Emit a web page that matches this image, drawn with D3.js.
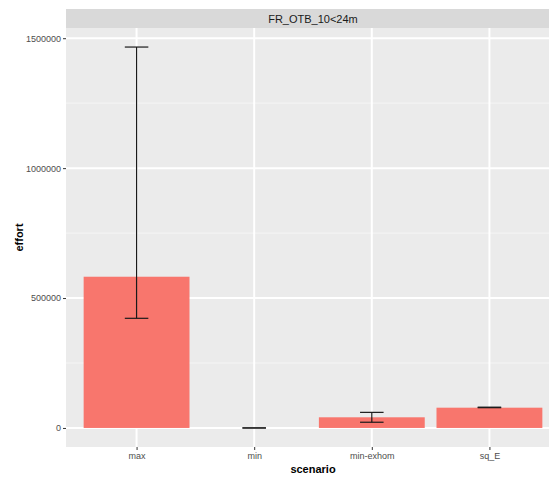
<!DOCTYPE html>
<html>
<head>
<meta charset="utf-8">
<script src="https://cdn.jsdelivr.net/npm/d3@7"></script>
<style>
  html, body { margin: 0; padding: 0; background: #fff; }
  svg { display: block; font-family: "Liberation Sans", Arial, Helvetica, sans-serif; }
</style>
</head>
<body>
<svg id="chart" width="549" height="478"></svg>
<script>
// Effort by scenario for the FR_OTB_10<24m fleet segment
const facetTitle = "FR_OTB_10<24m";
const scenarios = ["max", "min", "min-exhom", "sq_E"];
const effort    = [582000, 0, 41000, 78000];
const effortLow = [422000, 0, 22000, 78000];
const effortHigh = [1466000, 0, 60000, 80000];
const yTicks = [0, 500000, 1000000, 1500000];
const yMinor = [250000, 750000, 1250000];

const rows = scenarios.map((s, i) => ({
  scenario: s, value: effort[i], lo: effortLow[i], hi: effortHigh[i]
}));

const svg = d3.select("#chart");
const panel = { left: 66, right: 560, top: 28, bottom: 447 };
const strip = { top: 9, bottom: 28 };

// discrete x scale with ggplot-style 0.6 unit padding on each side
const x = d3.scaleBand()
  .domain(scenarios)
  .range([panel.left, panel.right])
  .paddingInner(0.1)
  .paddingOuter(0.55);
const unit = (panel.right - panel.left) / 4.2;
const xc = s => panel.left + unit * (0.6 + scenarios.indexOf(s));

// continuous y with 5% expansion around [0, max]
const yMax = d3.max(effortHigh);
const y = d3.scaleLinear()
  .domain([-0.05 * yMax, yMax * 1.05])
  .range([panel.bottom, panel.top]);

// strip
svg.append("rect")
  .attr("x", panel.left).attr("y", strip.top)
  .attr("width", panel.right - panel.left).attr("height", strip.bottom - strip.top)
  .attr("fill", "#d9d9d9");
svg.append("text")
  .attr("x", (panel.left + panel.right) / 2).attr("y", (strip.top + strip.bottom) / 2 + 4)
  .attr("text-anchor", "middle")
  .attr("font-size", 11).attr("fill", "#1a1a1a")
  .text(facetTitle);

// panel background
svg.append("rect")
  .attr("x", panel.left).attr("y", panel.top)
  .attr("width", panel.right - panel.left).attr("height", panel.bottom - panel.top)
  .attr("fill", "#ebebeb");

// grid lines
const grid = svg.append("g");
grid.selectAll("line.minor").data(yMinor).join("line")
  .attr("x1", panel.left).attr("x2", panel.right)
  .attr("y1", d => y(d)).attr("y2", d => y(d))
  .attr("stroke", "#f5f5f5").attr("stroke-width", 1);
grid.selectAll("line.major").data(yTicks).join("line")
  .attr("x1", panel.left).attr("x2", panel.right)
  .attr("y1", d => y(d)).attr("y2", d => y(d))
  .attr("stroke", "#ffffff").attr("stroke-width", 2);
grid.selectAll("line.vx").data(scenarios).join("line")
  .attr("x1", d => xc(d)).attr("x2", d => xc(d))
  .attr("y1", panel.top).attr("y2", panel.bottom)
  .attr("stroke", "#ffffff").attr("stroke-width", 2);

// bars
const barW = unit * 0.9;
svg.append("g").selectAll("rect").data(rows).join("rect")
  .attr("x", d => xc(d.scenario) - barW / 2)
  .attr("width", barW)
  .attr("y", d => Math.min(y(d.value), y(0)))
  .attr("height", d => Math.abs(y(0) - y(d.value)))
  .attr("fill", "#F8766D");

// error bars
const capW = unit * 0.2;
const eb = svg.append("g").attr("stroke", "#1a1a1a").attr("stroke-width", 1.2);
eb.selectAll("line.v").data(rows).join("line")
  .attr("x1", d => xc(d.scenario)).attr("x2", d => xc(d.scenario))
  .attr("y1", d => y(d.lo)).attr("y2", d => y(d.hi));
eb.selectAll("line.lo").data(rows).join("line")
  .attr("x1", d => xc(d.scenario) - capW / 2).attr("x2", d => xc(d.scenario) + capW / 2)
  .attr("y1", d => y(d.lo)).attr("y2", d => y(d.lo));
eb.selectAll("line.hi").data(rows).join("line")
  .attr("x1", d => xc(d.scenario) - capW / 2).attr("x2", d => xc(d.scenario) + capW / 2)
  .attr("y1", d => y(d.hi)).attr("y2", d => y(d.hi));

// y axis
const yAxis = svg.append("g")
  .attr("transform", `translate(${panel.left},0)`)
  .call(d3.axisLeft(y).tickValues(yTicks).tickFormat(d3.format("d")).tickSize(3).tickPadding(2));
yAxis.select(".domain").remove();
yAxis.selectAll(".tick line").attr("stroke", "#333333");
yAxis.selectAll(".tick text").attr("fill", "#4d4d4d").attr("font-size", 9)
  .attr("font-family", "'Liberation Sans', Arial, sans-serif");

// x axis
const xAxisScale = d3.scaleOrdinal().domain(scenarios).range(scenarios.map(xc));
const xAxis = svg.append("g")
  .attr("transform", `translate(0,${panel.bottom})`)
  .call(d3.axisBottom(xAxisScale).tickSize(3).tickPadding(3));
xAxis.select(".domain").remove();
xAxis.selectAll(".tick line").attr("stroke", "#333333");
xAxis.selectAll(".tick text").attr("fill", "#4d4d4d").attr("font-size", 9)
  .attr("font-family", "'Liberation Sans', Arial, sans-serif");

// axis titles
svg.append("text")
  .attr("x", (panel.left + panel.right) / 2).attr("y", 473)
  .attr("text-anchor", "middle").attr("font-size", 11).attr("font-weight", "bold")
  .attr("fill", "#000").text("scenario");
svg.append("text")
  .attr("transform", `translate(23,${(panel.top + panel.bottom) / 2}) rotate(-90)`)
  .attr("text-anchor", "middle").attr("font-size", 11).attr("font-weight", "bold")
  .attr("fill", "#000").text("effort");
</script>
</body>
</html>
